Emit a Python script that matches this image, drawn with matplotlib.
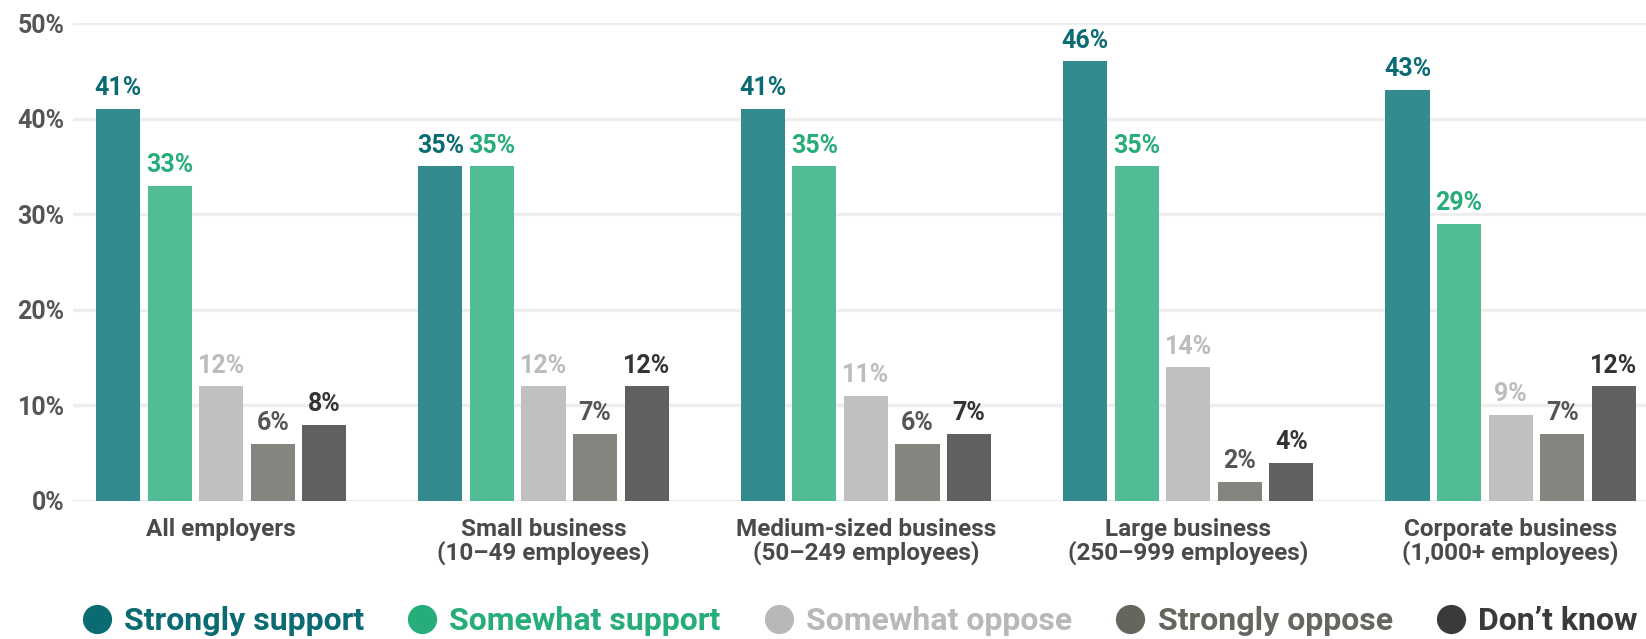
import numpy as np
import matplotlib.pyplot as plt
from matplotlib.lines import Line2D

plt.rcParams['font.family'] = ['Roboto', 'DejaVu Sans']

# employer groups and survey answers (percent)
groups = ["All employers",
          "Small business\n(10\u201349 employees)",
          "Medium-sized business\n(50\u2013249 employees)",
          "Large business\n(250\u2013999 employees)",
          "Corporate business\n(1,000+ employees)"]
answers = ["Strongly support", "Somewhat support", "Somewhat oppose",
           "Strongly oppose", "Don\u2019t know"]

strongly_support = [41, 35, 41, 46, 43]
somewhat_support = [33, 35, 35, 35, 29]
somewhat_oppose = [12, 12, 11, 14, 9]
strongly_oppose = [6, 7, 6, 2, 7]
dont_know = [8, 12, 7, 4, 12]

yticks = [0, 10, 20, 30, 40, 50]

series = [strongly_support, somewhat_support, somewhat_oppose,
          strongly_oppose, dont_know]
bar_colors = ["#338a8f", "#52bd94", "#c1bfbf", "#858580", "#60605f"]
text_colors = ["#0b6b73", "#27ad7a", "#bcbcbc", "#555552", "#333333"]
legend_colors = ["#0b6b73", "#27ad7a", "#b8b8b8", "#66665f", "#3a3a3a"]

fig = plt.figure(figsize=(16.46, 6.39), dpi=100)
ax = fig.add_axes([0.0443, 0.216, 0.9557, 0.748])

x = np.arange(len(groups))
pitch = 0.16
width = 0.137
for i, vals in enumerate(series):
    xs = x + (i - 2) * pitch
    ax.bar(xs, vals, width=width, color=bar_colors[i], zorder=3)
    for xi, v in zip(xs, vals):
        ax.text(xi, v + 0.9, f"{v}%", ha="center", va="bottom",
                fontsize=18, fontweight="bold", color=text_colors[i])

ax.set_xlim(-0.46, 4.42)
ax.set_ylim(0, 50)
ax.set_yticks(yticks)
ax.set_yticklabels([f"{t}%" for t in yticks])
ax.grid(axis="y", color="#eeeeee", linewidth=2.5, zorder=0)
ax.set_xticks(x)
ax.set_xticklabels(groups, fontsize=17.5, fontweight="bold", color="#4a4a4a",
                   linespacing=1.0)
ax.tick_params(axis="x", length=0, pad=12)
ax.tick_params(axis="y", length=0, pad=6, labelsize=18, labelcolor="#555555")
for lbl in ax.get_yticklabels():
    lbl.set_fontweight("bold")
for s in ax.spines.values():
    s.set_visible(False)
ax.set_axisbelow(True)

handles = [Line2D([], [], marker="o", linestyle="none", markersize=20,
                  markerfacecolor=c, markeredgecolor=c) for c in legend_colors]
leg = fig.legend(handles, answers, loc="center", bbox_to_anchor=(0.522, 0.028),
                 ncol=5, frameon=False, fontsize=23, handletextpad=0.35,
                 columnspacing=1.32, handlelength=1.0)
for t, c in zip(leg.get_texts(), legend_colors):
    t.set_color(c)
    t.set_fontweight("bold")

fig.savefig("out.png", dpi=100)
